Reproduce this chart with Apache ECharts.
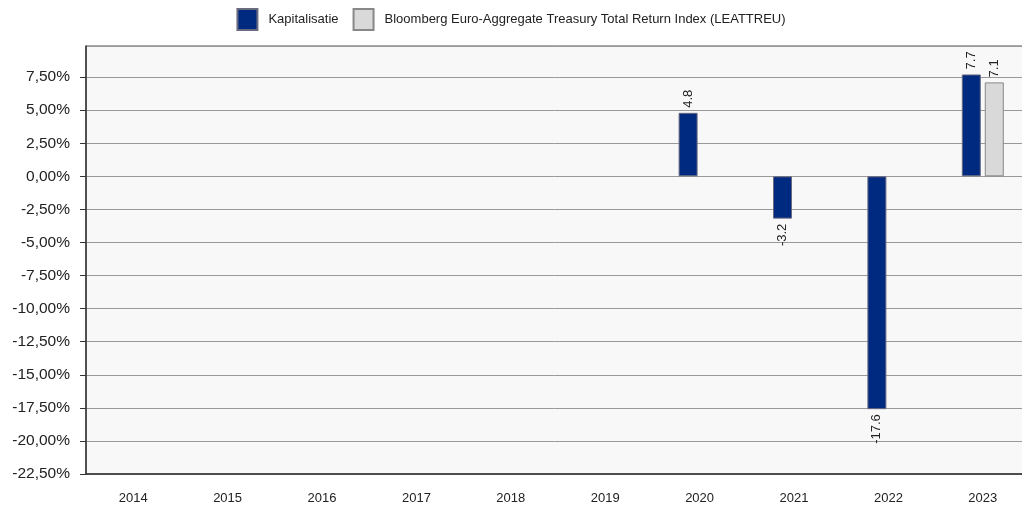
<!DOCTYPE html>
<html>
<head>
<meta charset="utf-8">
<script src="https://cdn.jsdelivr.net/npm/echarts@6/dist/echarts.min.js"></script>
<style>
html,body{margin:0;padding:0;background:#fff;}
#chart{width:1022px;height:512px;}
</style>
</head>
<body>
<div id="chart"></div>
<script>
var categories = ['2014','2015','2016','2017','2018','2019','2020','2021','2022','2023'];
var kapitalisatie = [null,null,null,null,null,null,4.8,-3.2,-17.6,7.7];
var bloomberg = [null,null,null,null,null,null,null,null,null,7.1];
var seriesNames = ['Kapitalisatie','Bloomberg Euro-Aggregate Treasury Total Return Index (LEATTREU)'];

function toItems(arr){
  return arr.map(function(v){
    if (v === null) return null;
    var neg = v < 0;
    return {
      value: v,
      label: {
        show: true,
        position: neg ? 'bottom' : 'top',
        rotate: 90,
        align: neg ? 'right' : 'left',
        verticalAlign: 'middle',
        distance: 5
      }
    };
  });
}

var chart = echarts.init(document.getElementById('chart'), null, {renderer:'canvas'});
var font = 'Liberation Sans, Arial, sans-serif';
chart.setOption({
  animation: false,
  textStyle: {fontFamily: font},
  legend: {
    top: 3,
    left: 'center',
    icon: 'rect',
    itemWidth: 20,
    itemHeight: 21,
    itemGap: 14,
    textStyle: {fontSize: 13, color: '#222', fontFamily: font, padding: [0,0,0,6]},
    data: seriesNames
  },
  grid: {
    left: 86, width: 944, top: 46, bottom: 38,
    outerBoundsMode: 'none',
    containLabel: false,
    show: true, backgroundColor: '#f8f8f8', borderColor: '#555', borderWidth: 1
  },
  xAxis: {
    type: 'category',
    data: categories,
    axisLine: {onZero: false, lineStyle: {color: '#333', width: 1.5}},
    axisTick: {alignWithLabel: true, length: 5, lineStyle: {color: '#333'}},
    axisLabel: {fontSize: 13, color: '#222', margin: 18, fontFamily: font},
    splitLine: {show: false}
  },
  yAxis: {
    type: 'value',
    min: -22.5,
    max: 9.85,
    interval: 2.5,
    axisLine: {show: true, lineStyle: {color: '#333', width: 1.5}},
    axisTick: {show: true, length: 6, lineStyle: {color: '#333'}},
    axisLabel: {
      fontSize: 15.5, color: '#222', margin: 16, fontFamily: font,
      showMaxLabel: false,
      formatter: function(v){ return v.toFixed(2).replace('.', ',') + '%'; }
    },
    splitLine: {show: true, lineStyle: {color: '#999', width: 1}}
  },
  series: [
    {
      name: seriesNames[0],
      type: 'bar',
      data: toItems(kapitalisatie),
      barWidth: 19,
      barGap: '21%',
      itemStyle: {color: '#002a80', borderColor: '#6a6a80', borderWidth: 1},
      label: {fontSize: 13, color: '#222', fontFamily: font,
        formatter: function(p){ return p.value.toFixed(1); }}
    },
    {
      name: seriesNames[1],
      type: 'bar',
      data: toItems(bloomberg),
      barWidth: 19,
      barGap: '21%',
      itemStyle: {color: '#d9d9d9', borderColor: '#888', borderWidth: 1},
      label: {fontSize: 13, color: '#222', fontFamily: font,
        formatter: function(p){ return p.value.toFixed(1); }}
    }
  ]
});
</script>
</body>
</html>
